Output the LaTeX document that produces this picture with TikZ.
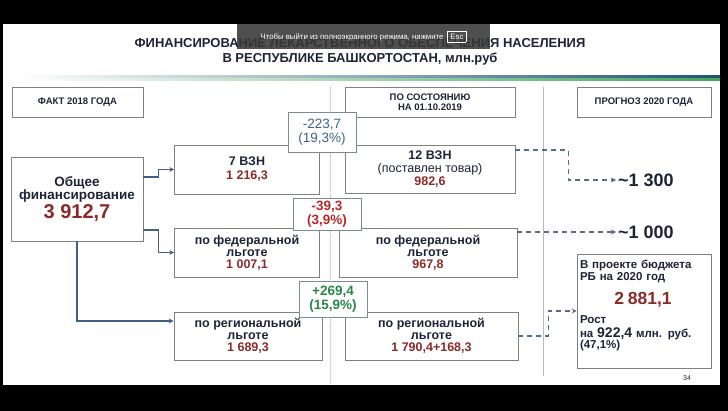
\documentclass[tikz,border=0pt]{standalone}
\usepackage{fontspec}
\setmainfont{Liberation Sans}
\usepackage{xcolor}
\usetikzlibrary{arrows.meta,positioning,calc}
\definecolor{ink}{RGB}{30,36,56}
\definecolor{numred}{RGB}{140,42,40}
\definecolor{boxgray}{RGB}{128,128,128}
\definecolor{diffgray}{RGB}{120,140,150}
\definecolor{diffblue}{RGB}{60,100,140}
\definecolor{diffred}{RGB}{185,40,40}
\definecolor{diffgreen}{RGB}{40,135,70}
\definecolor{lineblue}{RGB}{65,95,135}
\definecolor{dashblue}{RGB}{85,110,140}
\definecolor{ruleblue}{RGB}{30,85,115}
\definecolor{rulegreen}{RGB}{70,165,95}
\definecolor{popgray}{RGB}{55,55,55}
\newcommand{\fsz}[2]{\fontsize{#1}{#2}\selectfont}
\newcommand{\rval}[1]{\textcolor{numred}{#1}}

\begin{document}
\begin{tikzpicture}[x=1pt, y=-1pt,
  hdr/.style={draw=boxgray, fill=white, line width=0.6pt, align=center,
              text=ink, font=\fsz{9.5}{10}\bfseries, inner sep=1pt},
  box/.style={draw=boxgray, fill=white, line width=0.6pt, align=center,
              text=ink, font=\fsz{12.5}{12}\bfseries, inner sep=1pt},
  diff/.style={draw=diffgray, fill=white, line width=0.6pt, align=center,
               font=\fsz{13.5}{14}\bfseries, inner sep=1pt, minimum width=68pt},
  fcval/.style={font=\fsz{18}{18}\bfseries, text=ink, anchor=west, inner sep=2pt},
  edge/.style={-{Stealth[length=5pt,width=5pt]}, line width=1.3pt, draw=lineblue},
  dedge/.style={edge, dash pattern=on 5pt off 4pt, draw=dashblue},
  divider/.style={draw=gray!55, line width=0.6pt}
]
\useasboundingbox (0,0) rectangle (728,411);
\fill[black] (0,0) rectangle (728,411);
\fill[white] (3,24) rectangle (720,385);

% title and rule
\node[font=\fsz{13}{15}\bfseries, text=ink, align=center] (title) at (360,52)
  {ФИНАНСИРОВАНИЕ ЛЕКАРСТВЕННОГО ОБЕСПЕЧЕНИЯ НАСЕЛЕНИЯ\\В РЕСПУБЛИКЕ БАШКОРТОСТАН, млн.руб};
\shade[left color=white, right color=ruleblue] (15,76) rectangle (720,78.5);
\shade[left color=white, right color=rulegreen] (15,78.5) rectangle (720,81);

% column dividers
\draw[divider, dash pattern=on 1pt off 1pt] (330,87) -- (330,385);
\draw[divider] (543,87) -- (543,376);

\node[hdr, minimum width=131pt, minimum height=30pt] (fact) at (77.5,102) {ФАКТ 2018 ГОДА};
\node[hdr, minimum width=170pt, minimum height=30pt] (state) at (430,102) {ПО СОСТОЯНИЮ\\НА 01.10.2019};
\node[hdr, minimum width=134pt, minimum height=30pt] (fcst) at (644,102) {ПРОГНОЗ 2020 ГОДА};

\node[box, minimum width=132pt, minimum height=84pt, font=\fsz{13.5}{13}\bfseries] (total) at (77,199)
  {Общее\\финансирование\\[1pt]{\fsz{20}{20}\rval{3 912,7}}};

\node[box, minimum width=145pt, minimum height=49pt] (vzn7) at (247,169.5) {7 ВЗН\\[2pt]\rval{1 216,3}};
\node[box, minimum width=145pt, minimum height=49pt] (fed18) at (247,252.5) {по федеральной\\льготе\\\rval{1 007,1}};
\node[box, minimum width=148pt, minimum height=48pt] (reg18) at (248,336) {по региональной\\льготе\\\rval{1 689,3}};

\node[box, minimum width=170pt, minimum height=48pt, font=\fsz{12.5}{13}\bfseries] (vzn12) at (430,169)
  {12 ВЗН\\{\mdseries (поставлен товар)}\\\rval{982,6}};
\node[box, minimum width=178pt, minimum height=49pt] (fed19) at (428,252.5) {по федеральной\\льготе\\\rval{967,8}};
\node[box, minimum width=173pt, minimum height=48pt] (reg19) at (431.5,336) {по региональной\\льготе\\\rval{1 790,4+168,3}};

\node[diff, minimum height=40pt, text=diffblue, font=\fsz{13.5}{14}] (d1) at (322,132) {-223,7\\(19,3\%)};
\node[diff, minimum height=32pt, text=diffred] (d2) at (327,214) {-39,3\\(3,9\%)};
\node[diff, minimum height=36pt, text=diffgreen] (d3) at (333,299) {+269,4\\(15,9\%)};

\node[fcval] (f1300) at (616,180) {\textasciitilde1 300};
\node[fcval] (f1000) at (616,232) {\textasciitilde1 000};

\node[box, minimum width=134pt, minimum height=114pt, align=left, text width=128pt,
      font=\fsz{11.5}{11.5}\bfseries] (proj) at (644,311)
  {В проекте бюджета\\РБ на 2020 год\\[9pt]%
   \makebox[126pt]{\fsz{17.5}{18}\rval{2 881,1}}\\[7pt]%
   Рост\\[2.5pt]на {\fsz{14}{14}922,4} млн. руб.\\(47,1\%)\\[1pt]\mbox{}};

\node[font=\fsz{7}{8}, text=ink] (pg) at (687,378) {34};

\draw[edge] ([yshift=22pt]total.east) -- ++(15,0) |- (vzn7.west);
\draw[edge] ([yshift=-31pt]total.east) -- ++(15,0) |- (fed18.west);
\draw[edge] (total.south) |- ([yshift=15pt]reg18.west);

\draw[dedge] ([yshift=19pt]vzn12.east) -- ++(53,0) |- (f1300.west);
\draw[dedge] (fed19.east |- f1000.west) -- (f1000.west);
\draw[dedge] (reg19.east) -- ++(30,0) |- (proj.west);

% fullscreen notice
\node[fill=popgray, fill opacity=0.88, text opacity=1, text=white, minimum width=253pt,
      minimum height=25pt, inner sep=0pt, font=\fsz{7.8}{8}] (popup) at (363.5,36.5)
  {Чтобы выйти из полноэкранного режима, нажмите\enspace{\fboxsep=2.5pt\fboxrule=0.5pt\fbox{Esc}}};
\end{tikzpicture}
\end{document}
